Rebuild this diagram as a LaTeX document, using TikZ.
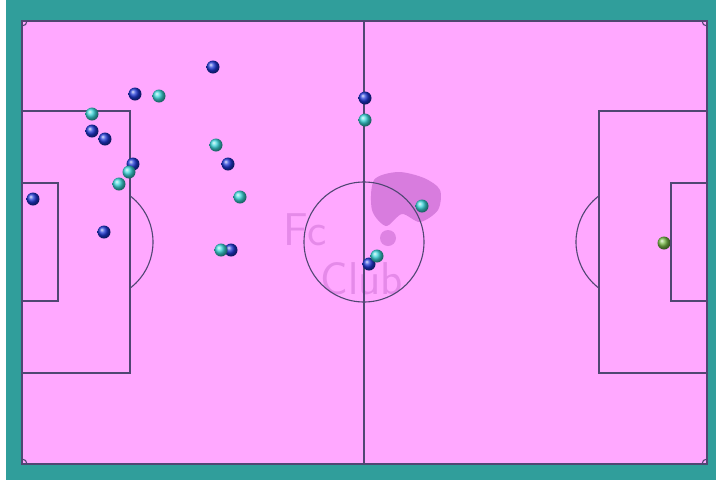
\documentclass[tikz,border=0pt]{standalone}
\usepackage{xcolor}
\usepackage{tikz}
\usetikzlibrary{positioning,backgrounds}
\definecolor{framecol}{RGB}{48,158,155}
\definecolor{grasscol}{RGB}{255,168,255}
\definecolor{linecol}{RGB}{80,70,115}
\definecolor{homecol}{RGB}{30,55,215}
\definecolor{awaycol}{RGB}{60,215,220}
\definecolor{keepcol}{RGB}{120,185,70}
\definecolor{wmcol}{RGB}{190,95,200}
\tikzset{
  pline/.style   ={draw=linecol, line width=1.1pt},
  player/.style  ={circle, inner sep=0pt, minimum size=13pt},
  home/.style    ={player, ball color=homecol},
  away/.style    ={player, ball color=awaycol},
  keeper/.style  ={player, ball color=keepcol},
  wmark/.style   ={text=wmcol, opacity=.4, font=\sffamily\fontsize{46}{46}\selectfont},
}

\begin{document}
\begin{tikzpicture}[x=1pt,y=-1pt]
    \useasboundingbox (0,0) rectangle (716,483);
    % frame and grass
    \fill[framecol] (6,0) rectangle (716,480);
    \fill[grasscol] (22,21) rectangle (707,464);

    % club crest, faded
    \fill[wmcol, opacity=.6] plot[smooth cycle] coordinates
      {(374,180) (398,172) (424,178) (440,190) (438,210) (420,222) (402,214) (386,226) (372,210)};
    \fill[wmcol, opacity=.5] (388,238) circle (8);
    \node[wmark] (crest1) at (305,230) {Fc};
    \node[wmark] (crest2) at (362,279) {Club};

    % markings
    \draw[pline] (22,21) rectangle (707,464);
    \draw[pline] (364,21) -- (364,464);
    \draw[pline] (364,242) circle (60);
    \draw[pline] (22,111) rectangle (130,373);
    \draw[pline] (22,183) rectangle (58,301);
    \draw[pline] (599,111) rectangle (707,373);
    \draw[pline] (671,183) rectangle (707,301);
    \begin{scope}
      \clip (130,0) rectangle (250,483);
      \draw[pline] (95,242) circle (58);
    \end{scope}
    \begin{scope}
      \clip (480,0) rectangle (599,483);
      \draw[pline] (634,242) circle (58);
    \end{scope}
    % corners
    \draw[pline] (27,21) arc (0:90:5);
    \draw[pline] (702,21) arc (180:90:5);
    \draw[pline] (27,464) arc (0:-90:5);
    \draw[pline] (702,464) arc (180:270:5);

    % players
    \foreach \x/\y [count=\i] in {213/67, 135/94, 92/131, 105/139, 133/164, 33/199,
        104/232, 228/164, 231/250, 365/98, 369/264}
      \node[home] (h\i) at (\x,\y) {};
    \foreach \x/\y [count=\i] in {159/96, 92/114, 129/172, 119/184, 216/145,
        240/197, 221/250, 365/120, 422/206, 377/256}
      \node[away] (a\i) at (\x,\y) {};
    \node[keeper] (gk) at (664,243) {};
\end{tikzpicture}
\end{document}
